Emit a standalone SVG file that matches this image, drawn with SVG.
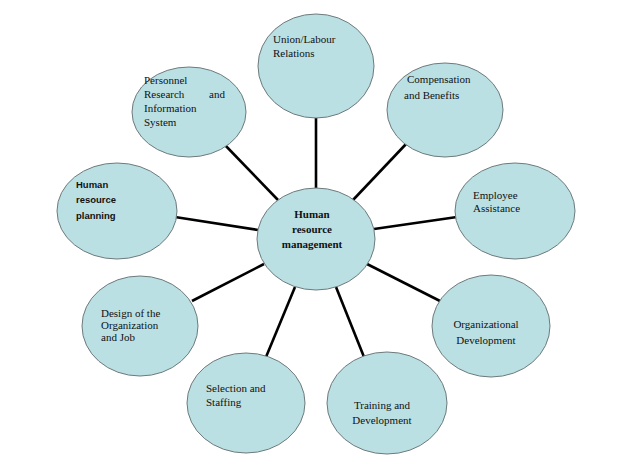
<svg xmlns="http://www.w3.org/2000/svg" width="639" height="462" viewBox="0 0 639 462">
<style>
.n ellipse{fill:#bae0e4;stroke:#6e7a7c;stroke-width:1}
.t{font-family:'Liberation Serif','Times New Roman','DejaVu Serif',serif;font-size:11px;fill:#111}
.b{font-family:'Liberation Serif','Times New Roman','DejaVu Serif',serif;font-size:11px;font-weight:bold;fill:#111}
.s{font-family:'Liberation Sans',Arial,sans-serif;font-size:9.5px;font-weight:bold;fill:#111}
.c line{stroke:#000;stroke-width:2.6}
</style>
<rect width="639" height="462" fill="#fff"/>
<g id="connectors" class="c">
<line x1="316" y1="115" x2="316" y2="189"/>
<line x1="223" y1="143" x2="278" y2="200"/>
<line x1="407" y1="143" x2="353" y2="200"/>
<line x1="175" y1="217" x2="258" y2="230"/>
<line x1="457" y1="217" x2="374" y2="229"/>
<line x1="192" y1="301" x2="264" y2="264"/>
<line x1="440" y1="301" x2="367" y2="264"/>
<line x1="295" y1="287" x2="266" y2="357"/>
<line x1="336" y1="287" x2="364" y2="357"/>
</g>
<g id="union" class="n"><ellipse cx="316" cy="66" rx="58" ry="52"/>
<text class="t" font-family="Liberation Serif, serif" x="273" y="43">Union/Labour</text><text class="t" font-family="Liberation Serif, serif" x="273" y="57">Relations</text></g>
<g id="personnel" class="n"><ellipse cx="189" cy="112" rx="57" ry="45"/>
<text class="t" x="144" y="84">Personnel</text><text class="t" x="144" y="98">Research</text><text class="t" x="225" y="98" text-anchor="end">and</text><text class="t" x="144" y="112">Information</text><text class="t" x="144" y="126">System</text></g>
<g id="compensation" class="n"><ellipse cx="445" cy="110" rx="58" ry="47"/>
<text class="t" x="407" y="83">Compensation</text><text class="t" x="404" y="99">and Benefits</text></g>
<g id="hrplanning" class="n"><ellipse cx="117" cy="211" rx="60" ry="48"/>
<text class="s" x="76" y="188">Human</text><text class="s" x="76" y="203">resource</text><text class="s" x="76" y="219">planning</text></g>
<g id="center" class="n"><ellipse cx="316" cy="239" rx="59" ry="51"/>
<text class="b" x="312" y="218" text-anchor="middle">Human</text><text class="b" x="312" y="233" text-anchor="middle">resource</text><text class="b" x="312" y="248" text-anchor="middle">management</text></g>
<g id="employee" class="n"><ellipse cx="515" cy="211" rx="60" ry="48"/>
<text class="t" x="473" y="199">Employee</text><text class="t" x="473" y="212">Assistance</text></g>
<g id="design" class="n"><ellipse cx="140" cy="326" rx="58" ry="50"/>
<text class="t" x="101" y="317">Design of the</text><text class="t" x="101" y="329">Organization</text><text class="t" x="101" y="341">and Job</text></g>
<g id="orgdev" class="n"><ellipse cx="491" cy="326" rx="59" ry="51"/>
<text class="t" x="486" y="328" text-anchor="middle">Organizational</text><text class="t" x="486" y="344" text-anchor="middle">Development</text></g>
<g id="selection" class="n"><ellipse cx="246" cy="403" rx="59" ry="50"/>
<text class="t" x="206" y="392">Selection and</text><text class="t" x="206" y="406">Staffing</text></g>
<g id="training" class="n"><ellipse cx="387" cy="403" rx="60" ry="51"/>
<text class="t" x="382" y="409" text-anchor="middle">Training and</text><text class="t" x="382" y="424" text-anchor="middle">Development</text></g>
</svg>
